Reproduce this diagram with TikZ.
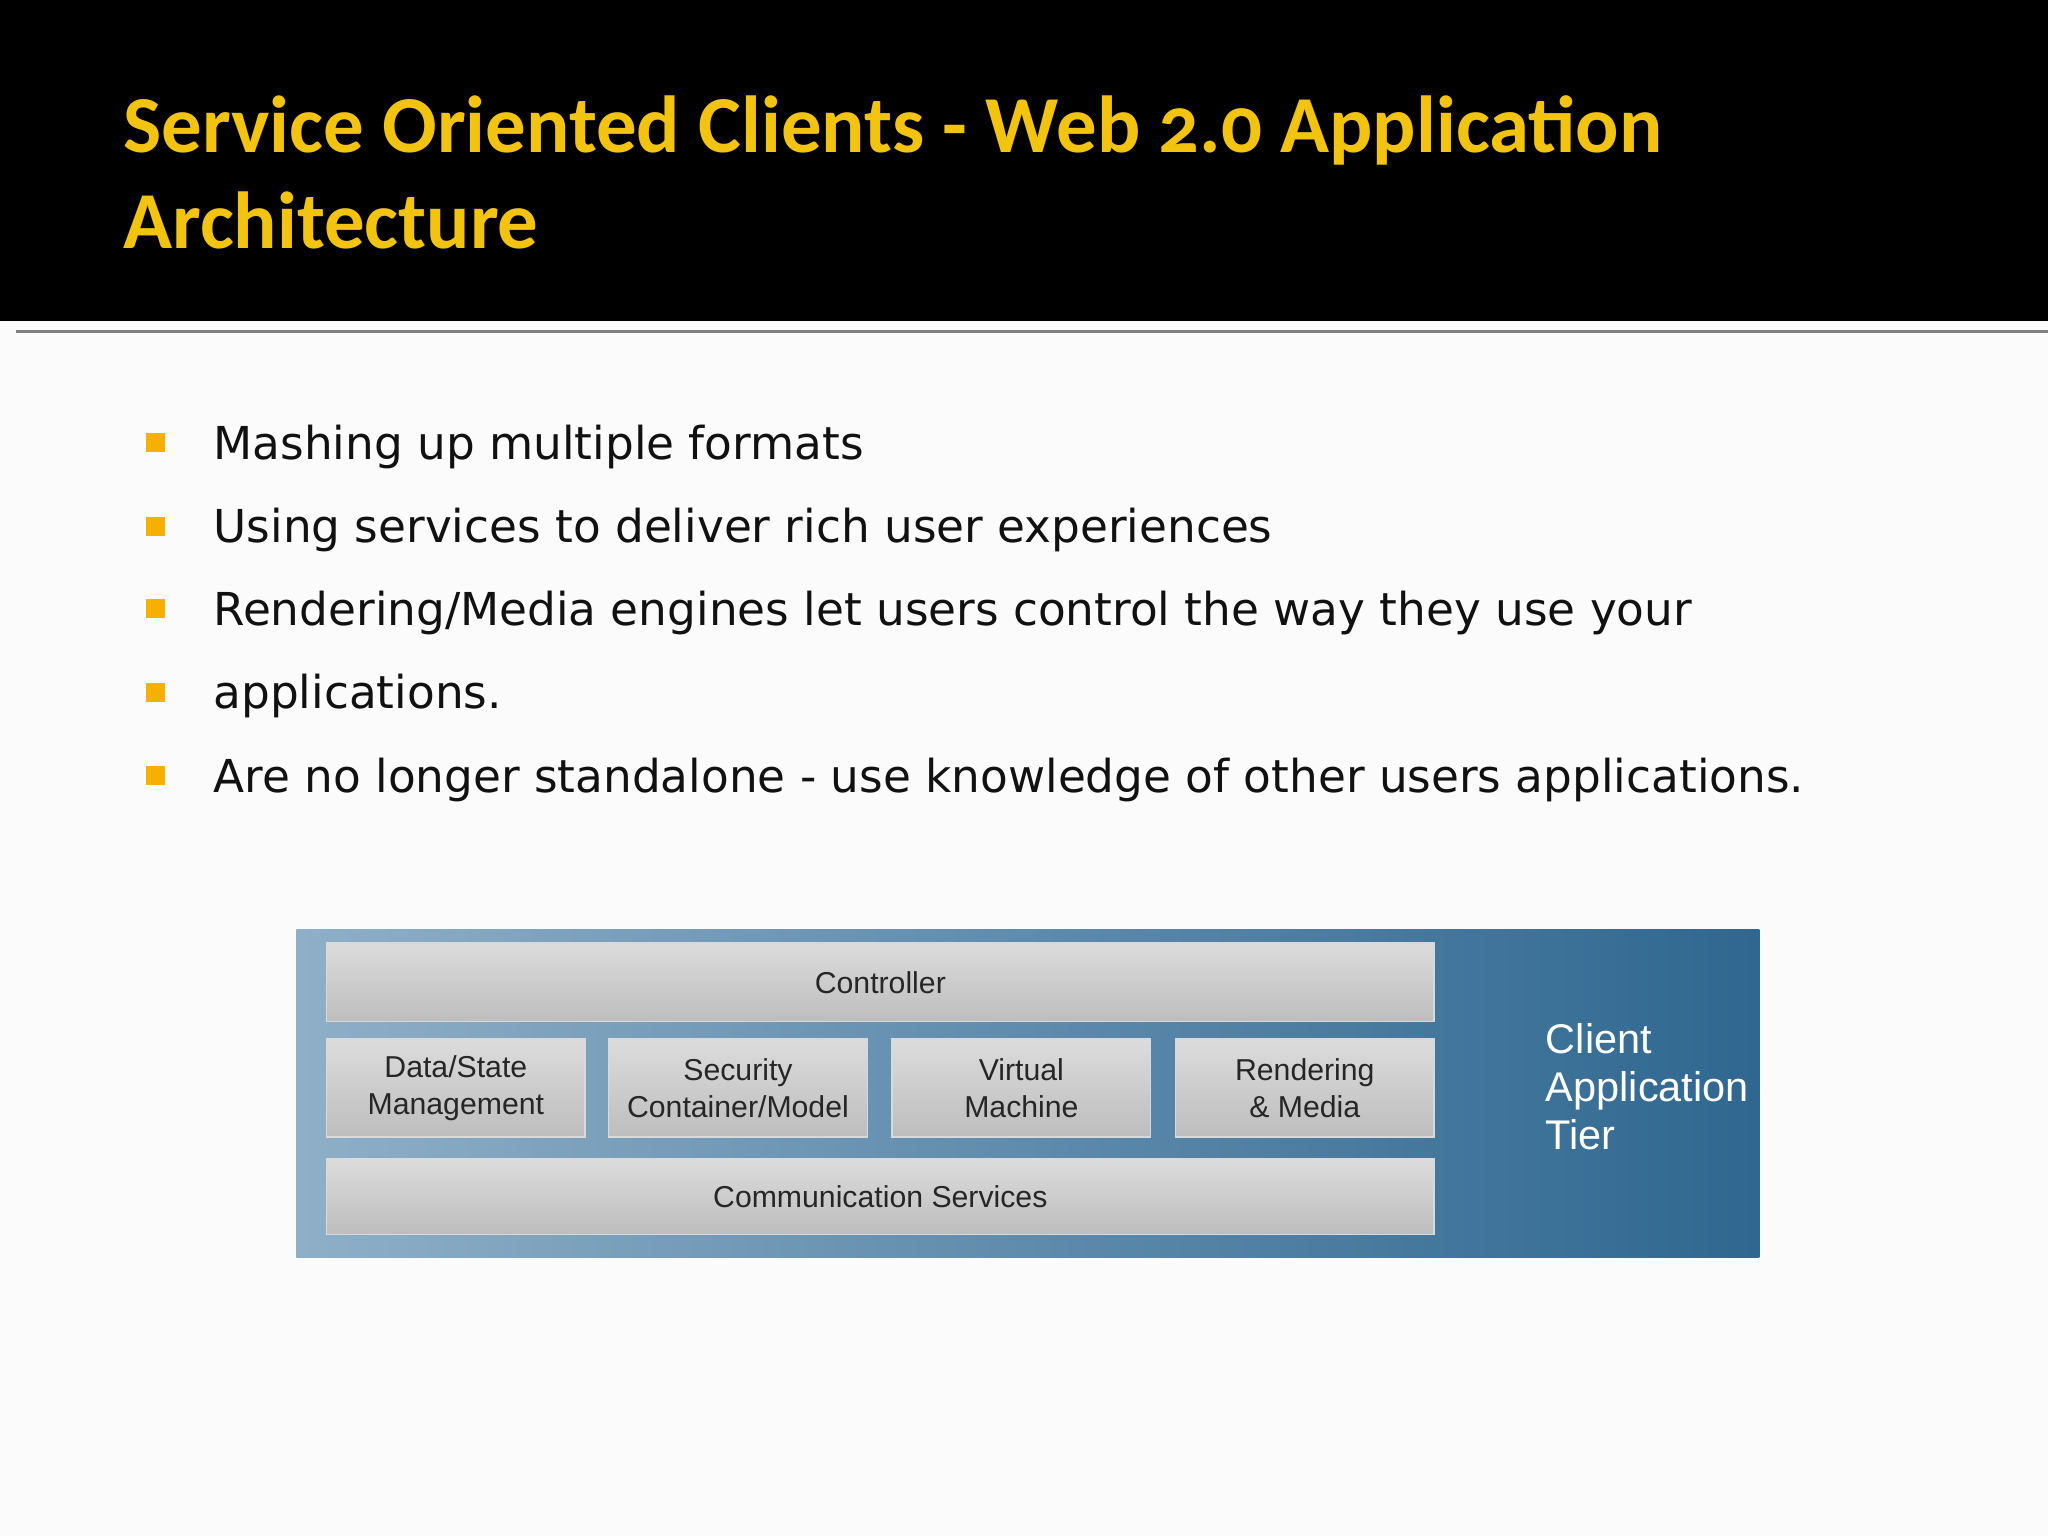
\documentclass[tikz,border=0pt]{standalone}
\usepackage{fontspec}
\setmainfont{DejaVu Sans}
\newfontfamily\titlefont[Numbers=OldStyle]{Carlito}
\newfontfamily\diafont{Liberation Sans}
\definecolor{ttl}{HTML}{F2C40F}
\definecolor{bul}{HTML}{F5B000}
\definecolor{txt}{HTML}{111111}
\definecolor{blueL}{HTML}{8FAFC8}
\definecolor{blueD}{HTML}{2F6790}
\definecolor{boxT}{HTML}{DCDCDC}
\definecolor{boxB}{HTML}{BDBDBD}
\tikzset{
 pbox/.style={draw=white!70!gray, line width=0.4pt, top color=boxT, bottom color=boxB, font=\diafont\fontsize{8.6}{10.5}\selectfont, align=center, text=black!85, inner sep=1pt},
 bsq/.style={fill=bul, minimum size=0.19cm, inner sep=0pt},
 btxt/.style={anchor=west, font=\fontsize{12.9}{15}\selectfont, text=txt, inner sep=0pt}
}
\begin{document}
\begin{tikzpicture}[x=0.013061cm,y=-0.013061cm]
\useasboundingbox (0,0) rectangle (1568,1176);
\fill[white!97!gray] (0,0) rectangle (1568,1176);
\fill[black] (0,0) rectangle (1568,246);
\draw[gray, line width=0.8pt] (12,254) -- (1568,254);
\node[anchor=base west, text=ttl, font=\titlefont\bfseries\fontsize{23}{27}\selectfont, inner sep=0pt] (t1) at (94,117) {Service Oriented Clients - Web 2.0 Application};
\node[anchor=base west, text=ttl, font=\titlefont\bfseries\fontsize{23}{27}\selectfont, inner sep=0pt] (t2) at (94,190) {Architecture};
\foreach \y/\t [count=\i] in {342/{Mashing up multiple formats}, 406/{Using services to deliver rich user experiences}, 469/{Rendering/Media engines let users control the way they use your}, 533/{applications.}, 597/{Are no longer standalone - use knowledge of other users applications.}}{
 \node[bsq] (b\i) at (119,\y-3) {};
 \node[btxt] (bt\i) at (163,\y) {\t};
}
\shade[left color=blueL, right color=blueD] (227,712) rectangle (1347,963);
\node[pbox, minimum width=848*0.013061cm, minimum height=60*0.013061cm] (ctl) at (674,752) {Controller};
\node[pbox, minimum width=198*0.013061cm, minimum height=75*0.013061cm] (ds) at (349,833) {Data/State\\Management};
\node[pbox, minimum width=198*0.013061cm, minimum height=75*0.013061cm] (sc) at (565,833) {Security\\Container/Model};
\node[pbox, minimum width=198*0.013061cm, minimum height=75*0.013061cm] (vm) at (782,833) {Virtual\\Machine};
\node[pbox, minimum width=198*0.013061cm, minimum height=75*0.013061cm] (rm) at (999,833) {Rendering\\\& Media};
\node[pbox, minimum width=848*0.013061cm, minimum height=58*0.013061cm] (cs) at (674,916) {Communication Services};
\node[anchor=north west, text=white, align=left, font=\diafont\fontsize{11.8}{13.6}\selectfont, inner sep=0pt] (cat) at (1183,783) {Client\\Application\\Tier};
\end{tikzpicture}
\end{document}
